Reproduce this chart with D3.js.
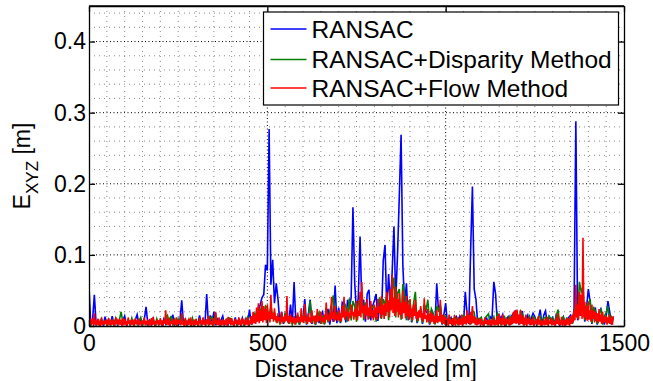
<!DOCTYPE html>
<html>
<head>
<meta charset="utf-8">
<script src="https://cdn.jsdelivr.net/npm/d3@7"></script>
<style>
  body { margin: 0; background: #fff; }
  text { font-family: Arial, "Liberation Sans", Helvetica, sans-serif; }
</style>
</head>
<body>
<div class="chart"></div>
<script>
// position error along the track, values in mm
// RANSAC and disparity traces sampled every 5 m, flow trace every 2.5 m
var stepCoarse = 5, stepFine = 2.5;

var errRansac = [
  55, 1, 8, 44, 2, 7, 2, 9, 1, 13, 2, 8, 1, 14, 2, 9, 1, 7, 3, 8,            // 0
  14, 1, 8, 2, 7, 3, 9, 16, 2, 8, 1, 9, 27, 3, 8, 2, 10, 1, 7, 2,            // 100
  7, 1, 10, 3, 9, 2, 8, 16, 2, 9, 1, 8, 36, 2, 9, 1, 7, 3, 8, 1,             // 200
  7, 2, 15, 1, 8, 2, 45, 1, 15, 2, 20, 1, 9, 2, 8, 14, 1, 7, 2, 9,           // 300
  8, 2, 12, 1, 9, 2, 11, 1, 10, 3, 23, 2, 15, 4, 18, 22, 30, 40, 44, 86,     // 400
  78, 277, 58, 93, 32, 60, 37, 4, 20, 3, 16, 12, 5, 30, 3, 62, 4, 15, 2, 13, // 500
  12, 38, 2, 16, 37, 3, 14, 2, 18, 4, 15, 20, 3, 14, 24, 2, 18, 6, 57, 4,    // 600
  26, 4, 33, 30, 5, 37, 24, 40, 167, 60, 20, 40, 126, 25, 37, 6, 45, 51, 8, 28, // 700
  35, 45, 7, 38, 12, 92, 114, 20, 73, 30, 76, 140, 35, 100, 183, 269, 84, 30, 60, 8, // 800
  30, 5, 26, 28, 4, 15, 24, 3, 30, 20, 18, 2, 22, 15, 3, 60, 20, 28, 2, 16,  // 900
  32, 2, 10, 12, 1, 9, 13, 2, 14, 10, 2, 48, 16, 3, 106, 196, 52, 37, 2, 10, // 1000
  8, 2, 9, 11, 1, 13, 10, 62, 45, 2, 15, 10, 16, 2, 9, 13, 1, 14, 18, 21,    // 1100
  15, 2, 14, 21, 1, 10, 15, 2, 11, 18, 13, 2, 10, 23, 1, 15, 21, 2, 13, 9,   // 1200
  12, 2, 16, 14, 1, 8, 13, 2, 9, 12, 15, 3, 25, 288, 8, 30, 42, 38, 6, 26,   // 1300
  52, 34, 3, 20, 24, 2, 19, 24, 15, 2, 14, 35, 20, 2, 12                     // 1400
];

var errDisparity = [
  7, 1, 9, 6, 2, 8, 1, 10, 3, 7, 1, 9, 2, 8, 1, 11, 3, 8, 20, 5,
  8, 3, 9, 2, 11, 1, 8, 2, 7, 12, 1, 8, 2, 7, 3, 9, 8, 1, 10, 2,
  8, 2, 7, 12, 15, 3, 14, 2, 9, 1, 10, 2, 17, 3, 8, 2, 9, 1, 11, 2,
  8, 1, 9, 2, 10, 3, 8, 2, 11, 13, 1, 18, 2, 9, 1, 8, 2, 9, 4, 11,
  9, 1, 8, 2, 10, 3, 9, 1, 8, 13, 2, 9, 14, 18, 6, 25, 20, 30, 10, 28,
  25, 10, 30, 12, 20, 5, 15, 2, 17, 4, 18, 12, 3, 14, 2, 10, 4, 15, 2, 11,
  11, 22, 3, 12, 35, 4, 14, 2, 13, 19, 3, 15, 2, 25, 5, 21, 30, 43, 8, 18,
  20, 5, 18, 33, 28, 6, 39, 8, 35, 28, 6, 32, 40, 45, 8, 33, 25, 10, 30, 26,
  28, 6, 32, 40, 10, 38, 30, 44, 8, 50, 48, 68, 12, 46, 52, 9, 59, 45, 8, 35,
  35, 6, 32, 48, 5, 20, 22, 4, 30, 22, 37, 3, 24, 18, 2, 28, 22, 30, 3, 14,
  14, 2, 13, 9, 1, 14, 10, 2, 8, 13, 15, 3, 18, 14, 2, 22, 19, 2, 11, 10,
  12, 1, 11, 14, 17, 2, 8, 13, 1, 18, 12, 2, 10, 13, 1, 9, 14, 2, 16, 19,
  20, 3, 21, 17, 1, 12, 9, 14, 2, 13, 11, 1, 12, 14, 2, 11, 12, 2, 14, 10,
  11, 1, 14, 23, 2, 9, 13, 1, 11, 9, 12, 3, 20, 30, 10, 62, 48, 55, 8, 30,
  30, 38, 4, 27, 20, 3, 18, 23, 2, 14, 19, 28, 3, 13, 10
];

var errFlow = [
  9,1, 7,3, 11,0, 18,2, 8,1, 10,3, 6,0, 12,2, 7,1, 8,3, 9,0, 11,2, 6,1, 9,2, 8,0, 12,3, 7,1, 10,2, 9,0, 11,1,           // 0
  10,2, 7,0, 12,3, 8,1, 9,2, 6,0, 11,3, 8,1, 10,2, 7,0, 8,3, 12,1, 7,2, 9,0, 6,3, 11,1, 13,2, 7,0, 9,3, 8,1,          // 100
  11,2, 8,0, 9,3, 22,1, 9,2, 12,0, 7,3, 10,1, 6,2, 12,0, 8,3, 9,1, 18,2, 7,0, 11,3, 6,1, 10,2, 12,0, 7,3, 9,1,         // 200
  10,2, 7,0, 11,3, 8,1, 12,2, 6,0, 9,3, 14,1, 10,2, 7,0, 11,3, 20,1, 8,2, 12,0, 6,3, 9,1, 8,2, 10,0, 13,3, 7,1,        // 300
  11,2, 7,0, 10,3, 8,1, 12,2, 6,0, 11,3, 7,1, 9,2, 12,0, 8,3, 14,2, 20,4, 16,3, 26,6, 32,4, 22,7, 35,5, 28,8, 24,4,    // 400
  30,8, 20,5, 44,10, 18,6, 25,8, 14,4, 18,7, 12,3, 20,6, 13,4, 16,7, 42,5, 14,3, 16,6, 12,4, 14,2, 11,5, 19,4, 13,6, 25,5, // 500
  14,4, 31,7, 13,3, 18,6, 12,4, 22,8, 11,3, 15,6, 24,5, 14,8, 20,3, 12,6, 16,4, 33,9, 15,6, 19,8, 41,10, 20,6, 28,9, 16,7, // 600
  22,8, 18,6, 28,12, 41,9, 20,14, 25,7, 19,11, 30,15, 20,9, 24,13, 35,8, 22,14, 48,12, 62,18, 28,10, 30,15, 38,9, 26,14, 35,11, 22,8, // 700
  30,12, 26,9, 38,18, 28,11, 42,16, 30,10, 32,14, 48,20, 36,12, 52,22, 72,18, 40,14, 55,20, 38,12, 46,16, 33,10, 50,18, 34,11, 42,14, 30,9, // 800
  38,12, 24,8, 30,14, 37,10, 20,7, 22,12, 28,9, 18,6, 39,10, 15,5, 24,8, 17,4, 20,6, 16,3, 14,5, 22,4, 14,6, 37,5, 16,3, 15,2, // 900
  12,2, 10,0, 16,3, 9,1, 11,2, 15,0, 8,3, 13,1, 10,2, 16,0, 12,3, 14,2, 22,4, 15,2, 20,3, 28,4, 14,2, 12,1, 9,3, 11,0,  // 1000
  10,2, 7,0, 12,3, 8,1, 9,2, 9,0, 6,3, 12,1, 8,2, 14,0, 17,3, 11,1, 16,2, 10,0, 12,3, 9,1, 12,2, 14,3, 20,4, 22,3,     // 1100
  23,4, 16,2, 22,3, 15,1, 12,2, 16,0, 10,3, 13,1, 9,2, 12,0, 8,3, 10,1, 14,2, 9,0, 7,3, 7,1, 10,2, 13,0, 8,3, 11,1,    // 1200
  9,2, 7,0, 12,3, 18,1, 8,2, 13,0, 8,3, 7,1, 11,2, 10,0, 14,3, 16,5, 22,8, 58,12, 30,9, 48,14, 44,10, 124,12, 34,9, 28,7, // 1300
  34,9, 22,6, 30,10, 22,5, 20,7, 18,4, 24,6, 16,3, 20,4, 13,5, 15,2, 12,4, 16,3, 12,2, 14                            // 1400
];

var seriesNames = ["RANSAC", "RANSAC+Disparity Method", "RANSAC+Flow Method"];
var seriesColors = ["#0000ff", "#008000", "#ff0000"];

var xTicks = [0, 500, 1000, 1500];
var yTicks = [0, 0.1, 0.2, 0.3, 0.4];
var xMinorStep = 50, yMinorStep = 0.02;

var W = 653, H = 381;
var margin = {top: 6, right: 29, bottom: 55, left: 89},
    width = W - margin.left - margin.right,
    height = H - margin.top - margin.bottom;

var svg = d3.select(".chart").append("svg")
    .attr("width", W)
    .attr("height", H)
  .append("g")
    .attr("transform", "translate(" + margin.left + "," + margin.top + ")");

var xScale = d3.scaleLinear().domain([0, 1500]).range([0, width]);
var yScale = d3.scaleLinear().domain([0, 0.45]).range([height, 0]);

svg.append("defs").append("clipPath").attr("id", "plot")
  .append("rect").attr("width", width).attr("height", height);

// minor grid
var xMinor = d3.range(xMinorStep, 1500, xMinorStep).filter(function(v) { return v % 500 !== 0; });
var yMinor = d3.range(1, 23).map(function(i) { return +(i * yMinorStep).toFixed(2); })
    .filter(function(v) { return Math.round(v * 100) % 10 !== 0; });

svg.selectAll(".minor-x").data(xMinor).enter().append("line")
    .attr("x1", xScale).attr("x2", xScale)
    .attr("y1", 0).attr("y2", height)
    .style("stroke", "#8a8a8a").style("stroke-dasharray", "1,4");
svg.selectAll(".minor-y").data(yMinor).enter().append("line")
    .attr("y1", yScale).attr("y2", yScale)
    .attr("x1", 0).attr("x2", width)
    .style("stroke", "#8a8a8a").style("stroke-dasharray", "1,4");

// major grid
svg.selectAll(".major-x").data(xTicks.slice(1, -1)).enter().append("line")
    .attr("x1", xScale).attr("x2", xScale)
    .attr("y1", 0).attr("y2", height)
    .style("stroke", "#000").style("stroke-dasharray", "1,2.5");
svg.selectAll(".major-y").data(yTicks.slice(1)).enter().append("line")
    .attr("y1", yScale).attr("y2", yScale)
    .attr("x1", 0).attr("x2", width)
    .style("stroke", "#000").style("stroke-dasharray", "1,2.5");

// error traces
function trace(step) {
  return d3.line()
      .x(function(d, i) { return xScale(i * step); })
      .y(function(d) { return yScale(d / 1000); });
}

[[errRansac, stepCoarse], [errDisparity, stepCoarse], [errFlow, stepFine]].forEach(function(s, k) {
  svg.append("path")
      .datum(s[0])
      .attr("clip-path", "url(#plot)")
      .attr("d", trace(s[1]))
      .style("fill", "none")
      .style("stroke", seriesColors[k])
      .style("stroke-width", 1.6);
});

// axes, ticks inside like matlab
function styleAxis(g) {
  g.selectAll("path, line").style("stroke", "#000").style("stroke-width", 1.3);
  g.selectAll("text").style("font-size", "23px").style("font-family", "Arial, 'Liberation Sans', sans-serif").attr("fill", "#000");
}

svg.append("g")
    .attr("transform", "translate(0," + height + ")")
    .call(d3.axisBottom(xScale).tickValues(xTicks).tickSizeInner(-6).tickSizeOuter(0).tickPadding(8.2)
      .tickFormat(d3.format("d")))
    .call(styleAxis);
svg.append("g")
    .call(d3.axisTop(xScale).tickValues(xTicks).tickSizeInner(-6).tickSizeOuter(0).tickFormat(""))
    .call(styleAxis);
svg.append("g")
    .call(d3.axisLeft(yScale).tickValues(yTicks).tickSizeInner(-6).tickSizeOuter(0).tickPadding(3)
      .tickFormat(function(d) { return d === 0 ? "0" : d3.format(".1f")(d); }))
    .call(styleAxis);
svg.append("g")
    .attr("transform", "translate(" + width + ",0)")
    .call(d3.axisRight(yScale).tickValues(yTicks).tickSizeInner(-6).tickSizeOuter(0).tickFormat(""))
    .call(styleAxis);
svg.append("line").attr("x1", 0).attr("x2", width).attr("y1", yScale(0.45)).attr("y2", yScale(0.45))
    .style("stroke", "#000").style("stroke-width", 1.3);

// axis labels
svg.append("text")
    .attr("x", 388).attr("y", height + 50.5)
    .attr("text-anchor", "end")
    .style("font-size", "23px")
    .text("Distance Traveled [m]");

var ylab = svg.append("text")
    .attr("transform", "translate(" + (30 - margin.left) + "," + (height / 2) + ") rotate(-90)")
    .attr("text-anchor", "middle")
    .style("font-size", "23px");
ylab.append("tspan").text("E");
ylab.append("tspan").attr("dy", 8).style("font-size", "17px").text("XYZ");
ylab.append("tspan").attr("dy", -8).text(" [m]");

// legend
var legend = svg.append("g").attr("transform", "translate(174.5,6)");
legend.append("rect")
    .attr("width", 355).attr("height", 93)
    .style("fill", "#fff").style("stroke", "#000").style("stroke-width", 1.2);
var rows = legend.selectAll(".row").data(seriesNames).enter().append("g")
    .attr("transform", function(d, i) { return "translate(0," + [17, 47.5, 76][i] + ")"; });
rows.append("line")
    .attr("x1", 7).attr("x2", 43)
    .style("stroke", function(d, i) { return seriesColors[i]; })
    .style("stroke-width", 1.4);
rows.append("text")
    .attr("x", 48).attr("dy", "0.35em")
    .style("font-size", "24.5px")
    .text(function(d) { return d; });
</script>
</body>
</html>
